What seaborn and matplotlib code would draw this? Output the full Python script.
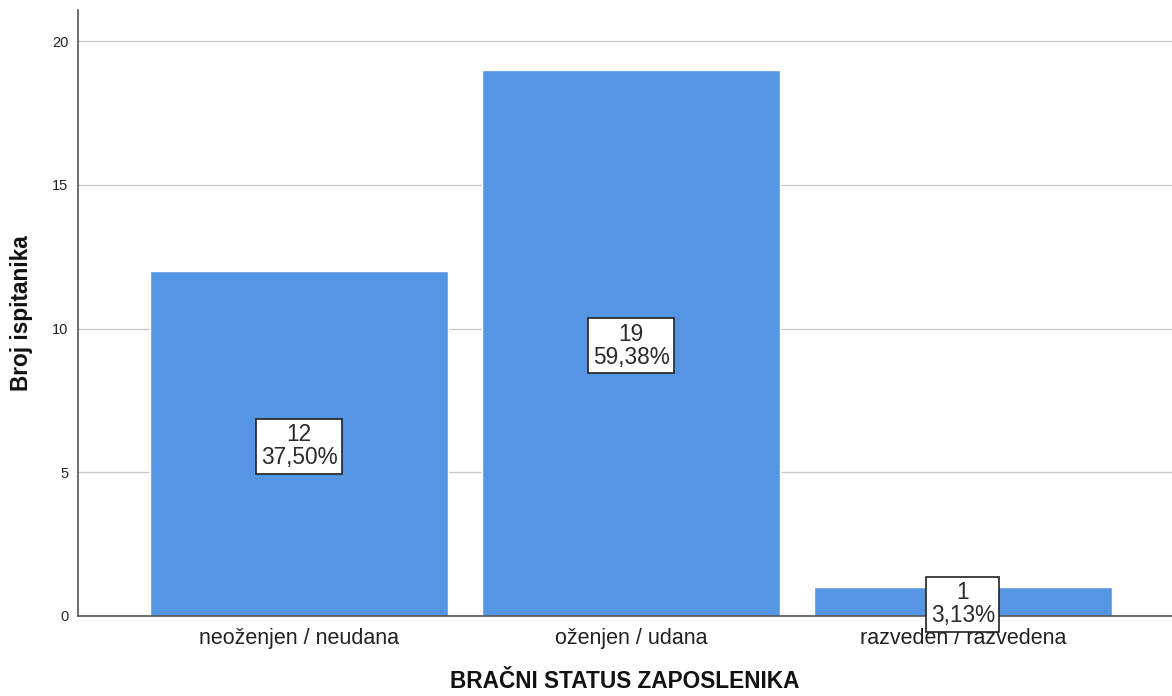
import matplotlib
matplotlib.use("Agg")
import matplotlib.pyplot as plt
import seaborn as sns
import pandas as pd

categories = ["neoženjen / neudana", "oženjen / udana", "razveden / razvedena"]
counts = [12, 19, 1]
percents = ["37,50%", "59,38%", "3,13%"]

sns.set_style("white")
plt.rcParams['font.family'] = ['Liberation Sans', 'DejaVu Sans']

df = pd.DataFrame({"cat": categories, "n": counts})

fig = plt.figure(figsize=(11.72, 6.96), dpi=100)
ax = fig.add_axes([0.0666, 0.115, 0.9334, 0.8706])

ax.yaxis.grid(True, color="#c8c8c8", linewidth=1)
ax.set_axisbelow(True)
sns.barplot(data=df, x="cat", y="n", color="#5596e4", saturation=1, width=0.898, ax=ax, zorder=2)

ax.set_xlim(-0.666, 2.63)
ax.set_ylim(0, 21.08)
ax.set_yticks([0, 5, 10, 15, 20])
ax.tick_params(axis="y", labelsize=10.5, length=0, pad=7, colors="#222222")
ax.tick_params(axis="x", labelsize=15.5, length=0, pad=9, colors="#222222")

for s in ["top", "right"]:
    ax.spines[s].set_visible(False)
for s in ["left", "bottom"]:
    ax.spines[s].set_color("#555555")
    ax.spines[s].set_linewidth(1.2)

for i, (c, p) in enumerate(zip(counts, percents)):
    ax.text(i, c / 2 - 0.1, f"{c}\n{p}", ha="center", va="center", fontsize=16.3,
            color="#2a2a2a", linespacing=1.0, zorder=5,
            bbox=dict(boxstyle="square,pad=0.2", facecolor="white", edgecolor="#222222", linewidth=1.2))

ax.set_xlabel("BRAČNI STATUS ZAPOSLENIKA", fontsize=16.3, fontweight="bold", labelpad=15, color="#111111")
ax.set_ylabel("Broj ispitanika", fontsize=16.3, fontweight="bold", labelpad=14, color="#111111")

fig.savefig("out.png", dpi=100)
